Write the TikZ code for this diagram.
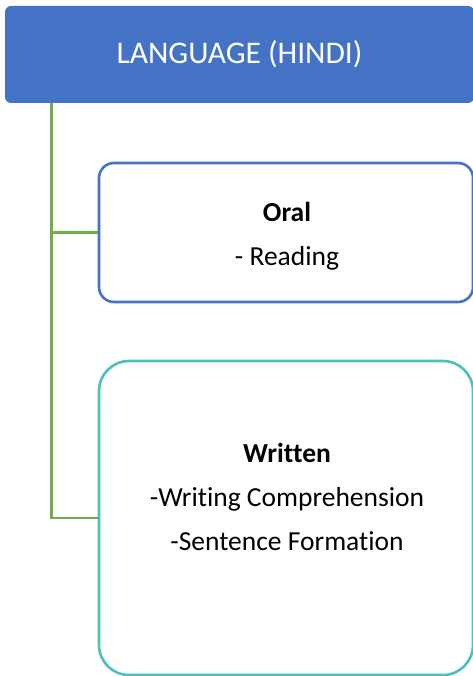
\documentclass[tikz,border=0pt]{standalone}
\usepackage{fontspec}
\setmainfont{Carlito}[Ligatures=NoCommon]
\usetikzlibrary{positioning}
\definecolor{titleblue}{HTML}{4472C4}
\definecolor{branchgreen}{HTML}{70AD47}
\definecolor{writtenteal}{HTML}{4DC0BE}
\tikzset{
  titlebox/.style={fill=titleblue,draw=none,rounded corners=6pt,text=white,
    minimum width=469pt,minimum height=97pt,inner sep=0pt,
    font=\fontsize{31.5}{36}\selectfont},
  subbox/.style={draw=#1,line width=2.6pt,fill=white,inner sep=0pt,
    minimum width=374pt,align=center},
  branch/.style={draw=branchgreen,line width=2.8pt},
  boxtext/.style={align=center,font=\fontsize{27.5}{44}\selectfont}
}
\begin{document}
\begin{tikzpicture}[x=1pt,y=-1pt]
    \useasboundingbox (0,0) rectangle (472,676);
    % title
    \node[titlebox] (title) at (239.5,54.5) {\raisebox{-1.5pt}{LANGUAGE (HINDI)}};
    \coordinate (trunk) at ([xshift=47pt]title.south west);
    % sub boxes
    \node[subbox=titleblue,minimum height=139pt,rounded corners=15pt]
        (oral) at (286,232.5) {};
    \node[boxtext] (oraltext) at (287,236) {\textbf{Oral}\\- Reading};
    \node[subbox=writtenteal,minimum height=314pt,rounded corners=30pt]
        (written) at (286,518) {};
    \node[boxtext] (writtentext) at (287,497)
        {\textbf{Written}\\-Writing Comprehension\\-Sentence Formation};
    % green lines
    \draw[branch] (trunk) |- (oral.west);
    \draw[branch] (trunk) |- (written.west);
\end{tikzpicture}
\end{document}
